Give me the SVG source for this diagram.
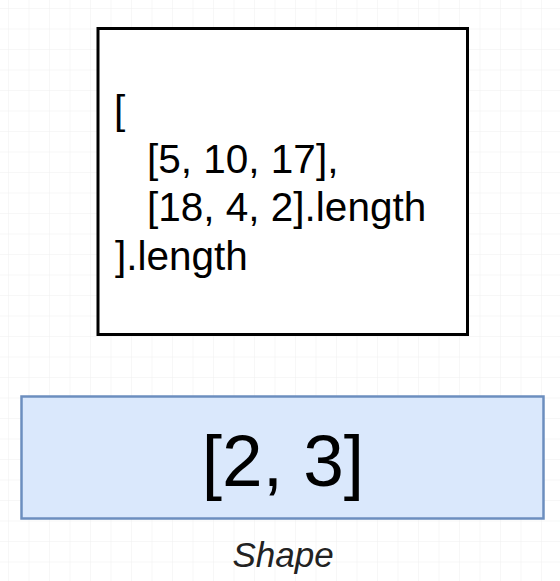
<svg xmlns="http://www.w3.org/2000/svg" width="560" height="581" viewBox="0 0 560 581">
  <style>
    .code { font-family: "Liberation Sans", Arial, Helvetica, sans-serif; font-size: 40.5px; fill: #000000; }
    .big { font-family: "Liberation Sans", Arial, Helvetica, sans-serif; font-size: 73px; fill: #000000; }
    .label { font-family: "Liberation Sans", Arial, Helvetica, sans-serif; font-size: 35px; font-style: italic; fill: #222222; }
  </style>
  <defs>
    <pattern id="grid" x="8" y="8" width="20.5" height="20.5" patternUnits="userSpaceOnUse">
      <path d="M 0 0 L 20.5 0 M 0 0 L 0 20.5" fill="none" stroke="#f0f0f0" stroke-width="1"/>
    </pattern>
  </defs>
  <rect x="0" y="0" width="560" height="581" fill="#ffffff"/>
  <rect x="0" y="0" width="560" height="581" fill="url(#grid)"/>
  <g id="connectors"></g>
  <g id="code-node">
    <rect x="98" y="28.5" width="369.5" height="306" fill="#ffffff" stroke="#000000" stroke-width="3"/>
    <text class="code" x="114" y="124">[</text>
    <text class="code" x="147" y="172.5">[5, 10, 17],</text>
    <text class="code" x="147" y="221">[18, 4, 2].length</text>
    <text class="code" x="115" y="269.5">].length</text>
  </g>
  <g id="shape-node">
    <rect x="21.5" y="396.5" width="522" height="122" fill="#dae8fc" stroke="#6c8ebf" stroke-width="2.5"/>
    <text class="big" x="283" y="486" text-anchor="middle">[2, 3]</text>
  </g>
  <g id="shape-label">
    <text class="label" x="283" y="567" text-anchor="middle">Shape</text>
  </g>
</svg>
